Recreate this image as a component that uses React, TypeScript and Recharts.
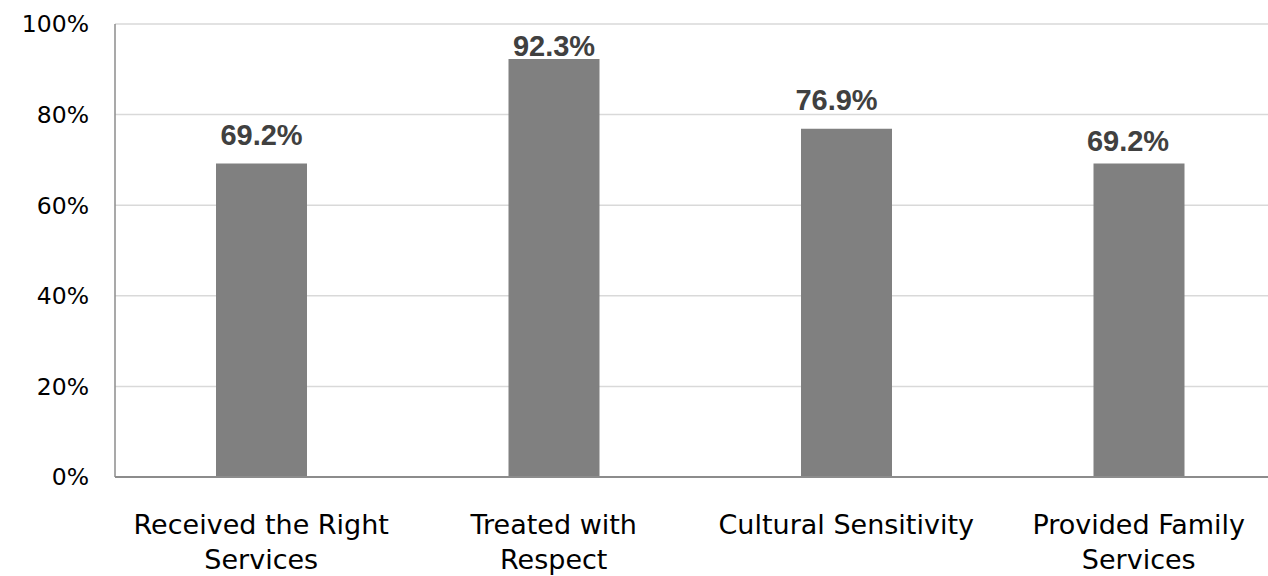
import { BarChart, Bar, XAxis, YAxis, CartesianGrid, LabelList } from "recharts"

// Survey results, percent of respondents answering yes
const categories = [
  "Received the Right\nServices",
  "Treated with\nRespect",
  "Cultural Sensitivity",
  "Provided Family\nServices",
]
const percentYes = [69.2, 92.3, 76.9, 69.2]
const yTicks = [0, 20, 40, 60, 80, 100]

// hand-placed value labels: horizontal nudge and gap above the bar
const labelNudge = [
  { dx: 0, gap: 19 },
  { dx: 0, gap: 3 },
  { dx: -10, gap: 19 },
  { dx: -11, gap: 13 },
]

const data = categories.map((name, i) => ({ name, value: percentYes[i] }))

const CategoryTick = ({ x, y, payload }: any) => {
  const lines = String(payload.value).split("\n")
  return (
    <text
      x={x}
      y={y}
      textAnchor="middle"
      fill="#000"
      fontFamily="'DejaVu Sans', Verdana, sans-serif"
      fontSize={27}
    >
      {lines.map((line, i) => (
        <tspan key={i} x={x} dy={i === 0 ? 57 : 34.5}>
          {line}
        </tspan>
      ))}
    </text>
  )
}

const ValueLabel = (props: any) => {
  const { x, y, width, value, index } = props
  const nudge = labelNudge[index] || { dx: 0, gap: 14 }
  return (
    <text
      x={x + width / 2 + nudge.dx}
      y={y - nudge.gap}
      textAnchor="middle"
      fill="#404040"
      fontFamily="'Liberation Sans', Arial, sans-serif"
      fontWeight="bold"
      fontSize={29}
    >
      {`${Number(value).toFixed(1)}%`}
    </text>
  )
}

export default function App() {
  return (
    <div
      style={{
        position: "absolute",
        left: 0,
        top: 0,
        width: 1268,
        height: 576,
        overflow: "hidden",
        background: "#fff",
      }}
    >
      <BarChart
        width={1290}
        height={576}
        data={data}
        margin={{ top: 24, right: 5, left: 0, bottom: 0 }}
      >
        <CartesianGrid vertical={false} stroke="#d9d9d9" strokeWidth={1.5} />
        <XAxis
          dataKey="name"
          height={99}
          interval={0}
          tickLine={false}
          tickSize={0}
          tickMargin={0}
          axisLine={{ stroke: "#8c8c8c", strokeWidth: 2 }}
          tick={<CategoryTick />}
        />
        <YAxis
          width={115}
          domain={[0, 100]}
          ticks={yTicks}
          tickFormatter={(v) => `${v}%`}
          tickLine={false}
          tickSize={0}
          tickMargin={26}
          axisLine={{ stroke: "#8c8c8c", strokeWidth: 1.5 }}
          tick={{ fill: "#000", fontSize: 23.5, fontFamily: "'DejaVu Sans', Verdana, sans-serif" }}
        />
        <Bar dataKey="value" fill="#808080" barSize={91} isAnimationActive={false}>
          <LabelList dataKey="value" content={<ValueLabel />} />
        </Bar>
      </BarChart>
    </div>
  )
}
